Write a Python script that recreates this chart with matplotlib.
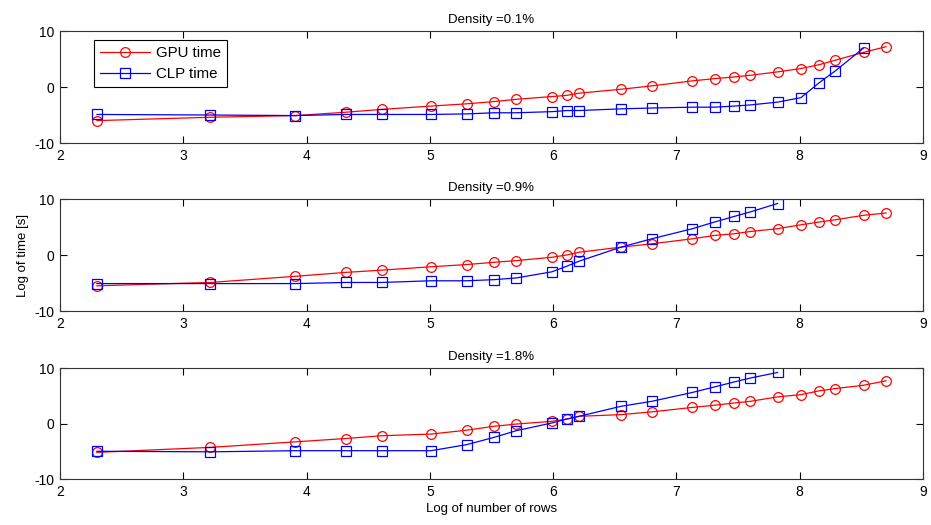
import numpy as np
import matplotlib.pyplot as plt

plt.rcParams['font.family'] = ['Liberation Sans', 'DejaVu Sans']
plt.rcParams['axes.unicode_minus'] = False

# log of number of rows (x) for each run
log_rows = [2.30, 3.22, 3.91, 4.32, 4.61, 5.01, 5.30, 5.52, 5.70, 5.99, 6.11, 6.21,
            6.55, 6.80, 7.13, 7.31, 7.47, 7.60, 7.82, 8.01, 8.16, 8.29, 8.52, 8.70]

densities = ['0.1%', '0.9%', '1.8%']

# log of time [s]
gpu_01 = [-6.0, -5.4, -5.1, -4.5, -4.0, -3.4, -3.0, -2.6, -2.2, -1.7, -1.5, -1.1,
          -0.4, 0.2, 1.1, 1.5, 1.8, 2.1, 2.7, 3.3, 4.0, 4.8, 6.2, 7.2]
clp_01 = [-4.9, -5.0, -5.1, -4.9, -4.9, -4.9, -4.8, -4.6, -4.6, -4.4, -4.2, -4.2,
          -3.9, -3.75, -3.6, -3.6, -3.4, -3.2, -2.7, -1.9, 0.8, 2.9, 7.0]

gpu_09 = [-5.5, -4.9, -3.8, -3.1, -2.7, -2.1, -1.7, -1.3, -1.0, -0.4, 0.0, 0.5,
          1.4, 2.0, 2.9, 3.5, 3.8, 4.2, 4.7, 5.4, 5.9, 6.3, 7.1, 7.5]
clp_09 = [-5.1, -5.1, -5.1, -4.9, -4.9, -4.6, -4.6, -4.4, -4.1, -3.0, -2.0, -1.1,
          1.4, 2.9, 4.7, 5.9, 6.9, 7.7, 9.2]

gpu_18 = [-5.2, -4.3, -3.3, -2.7, -2.2, -1.9, -1.2, -0.5, -0.1, 0.4, 0.8, 1.3,
          1.6, 2.1, 2.9, 3.3, 3.7, 4.0, 4.8, 5.2, 5.9, 6.3, 6.9, 7.7]
clp_18 = [-5.0, -5.1, -4.9, -4.9, -4.9, -4.9, -3.8, -2.5, -1.3, 0.1, 0.8, 1.3,
          3.1, 4.0, 5.6, 6.6, 7.5, 8.2, 9.2]

gpu_series = [gpu_01, gpu_09, gpu_18]
clp_series = [clp_01, clp_09, clp_18]

fig = plt.figure(figsize=(9.31, 5.25), dpi=100)
fig.patch.set_facecolor('white')

# axes boxes in figure fraction [left, bottom, width, height]
boxes = [[0.0644, 0.7276, 0.927, 0.2133],
         [0.0644, 0.4076, 0.927, 0.2133],
         [0.0644, 0.0876, 0.927, 0.2114]]

axs = []
for i, box in enumerate(boxes):
    ax = fig.add_axes(box)
    gpu = gpu_series[i]
    clp = clp_series[i]
    ax.plot(log_rows[:len(gpu)], gpu, color='red', lw=0.9, marker='o',
            ms=7, mfc='none', mec='red', mew=0.9, label='GPU time')
    ax.plot(log_rows[:len(clp)], clp, color='blue', lw=0.9, marker='s',
            ms=7, mfc='none', mec='blue', mew=0.9, label='CLP time')
    ax.set_xlim(2, 9)
    ax.set_ylim(-10, 10)
    ax.set_xticks(range(2, 10))
    ax.set_yticks([-10, 0, 10])
    ax.tick_params(direction='in', length=5, width=0.8, top=True, right=True,
                   labelsize=10, pad=4, colors='black')
    for sp in ax.spines.values():
        sp.set_color('#333333')
        sp.set_linewidth(0.8)
    ax.set_title(f'Density ={densities[i]}', fontsize=9.5, pad=6)
    axs.append(ax)

leg = axs[0].legend(loc='upper left', bbox_to_anchor=(0.04, 0.92), fontsize=10.8,
                    fancybox=False, framealpha=1, edgecolor='black',
                    borderaxespad=0, handlelength=3.3, borderpad=0.4,
                    labelspacing=0.5, handletextpad=0.4)
leg.get_frame().set_linewidth(0.8)

axs[1].set_ylabel('Log of time [s]', fontsize=9.5, labelpad=4)
axs[2].set_xlabel('Log of number of rows', fontsize=9.5, labelpad=3)

fig.savefig('out.png', dpi=100, facecolor='white')
